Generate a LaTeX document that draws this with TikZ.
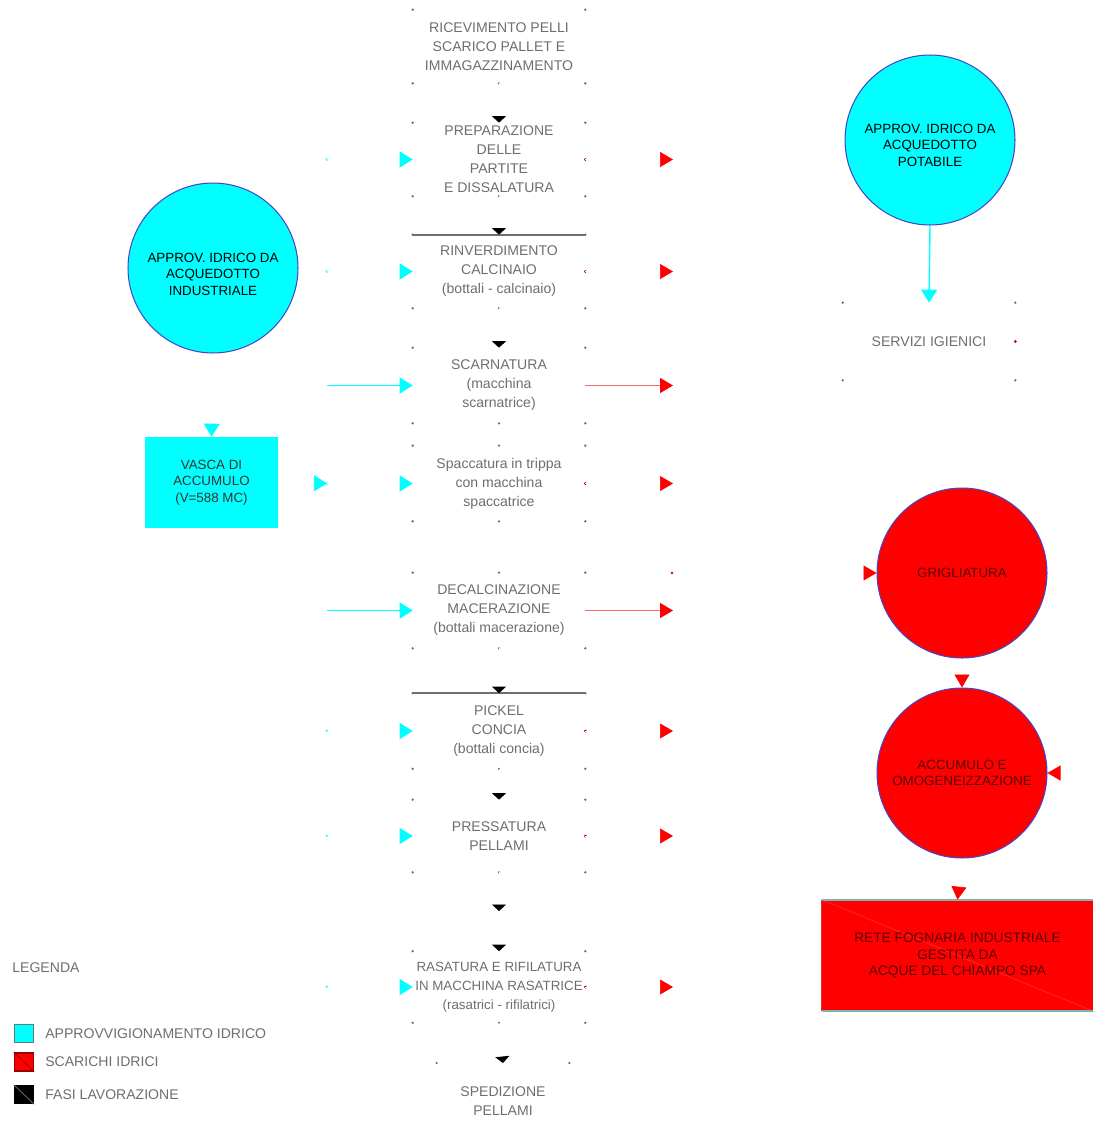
\documentclass[tikz,border=0pt]{standalone}
\usepackage{fontspec}
\setmainfont{Liberation Sans}
\usetikzlibrary{arrows.meta}
\definecolor{aqua}{HTML}{00FFFF}
\definecolor{scarlet}{HTML}{FF0000}
\definecolor{rim}{HTML}{4646C8}
\definecolor{txtgray}{HTML}{6E6E6E}
\definecolor{edgeteal}{HTML}{7FB2B0}
\definecolor{salmon}{HTML}{FF6A6A}
\definecolor{darkred}{HTML}{5A0000}
\begin{document}
\begin{tikzpicture}[x=0.02cm,y=-0.02cm,
  every node/.style={font=\fontsize{8}{10.8}\selectfont},
  phase/.style={minimum width=3.44cm,minimum height=1.46cm,inner sep=0pt,
    text=txtgray,align=center},
  source/.style={circle,minimum size=3.4cm,inner sep=0pt,align=center,
    draw=rim,line width=0.6pt,font=\fontsize{7.6}{9.4}\selectfont},
  caption/.style={align=center,inner sep=0pt,font=\fontsize{7.6}{9.4}\selectfont},
  flowk/.style={white,-{Triangle[black,length=0.13cm,width=0.28cm]}},
  flowc/.style={aqua,line width=0.8pt,-{Triangle[aqua,length=0.26cm,width=0.32cm]}},
  ghostc/.style={white,-{Triangle[aqua,length=0.26cm,width=0.32cm]}},
  flowr/.style={salmon,line width=0.8pt,-{Triangle[scarlet,length=0.26cm,width=0.3cm]}},
  ghostr/.style={white,-{Triangle[scarlet,length=0.26cm,width=0.3cm]}},
  dotg/.style={fill=txtgray},
]
\useasboundingbox (0,0) rectangle (1093,1133);

% ---------------- process column ----------------
\node[phase] (b1) at (499,46.5) {RICEVIMENTO PELLI\\SCARICO PALLET E\\IMMAGAZZINAMENTO};
\node[phase] (b2) at (499,159.5) {PREPARAZIONE\\DELLE\\PARTITE\\E DISSALATURA};
\node[phase] (b3) at (499,271.5) {RINVERDIMENTO\\CALCINAIO\\(bottali - calcinaio)};
\node[phase,minimum height=1.5cm] (b4) at (499,385.5) {SCARNATURA\\(macchina\\scarnatrice)};
\node[phase,minimum height=1.5cm] (b5) at (499,483.5) {Spaccatura in trippa\\con macchina\\spaccatrice};
\node[phase,minimum height=1.5cm] (b6) at (499,610.5) {DECALCINAZIONE\\MACERAZIONE\\(bottali macerazione)};
\node[phase,minimum height=1.5cm] (b7) at (499,731) {PICKEL\\CONCIA\\(bottali concia)};
\node[phase,minimum height=1.44cm] (b8) at (499,836) {PRESSATURA\\PELLAMI};
\node[phase,minimum height=1.42cm,font=\fontsize{7.6}{10.8}\selectfont] (b9) at (499,987) {RASATURA E RIFILATURA\\IN MACCHINA RASATRICE\\(rasatrici - rifilatrici)};
\node[phase,minimum width=2.64cm,minimum height=1.34cm,anchor=north] (b10) at (503,1063) {\\SPEDIZIONE\\PELLAMI};

% faint corner and centre marks of the phase frames
\foreach \n in {b1,b2,b3,b4,b5,b6,b7,b8,b9}{
  \fill[dotg] (\n.north west) circle (1.3);
  \fill[dotg] (\n.north east) circle (1.3);
  \fill[dotg] (\n.south west) circle (1.3);
  \fill[dotg] (\n.south east) circle (1.3);
  \fill[dotg] (\n.south) circle (1.3);
}
\fill[dotg] (b5.north) circle (1.3);
\fill[dotg] (b6.north) circle (1.3);
\fill[dotg] (b10.north west) circle (1.3);
\fill[dotg] (b10.north east) circle (1.3);
\draw[txtgray,line width=1pt] (b3.north west) -- (b3.north east);
\draw[txtgray,line width=1pt] (b7.north west) -- (b7.north east);

% sequence of phases
\coordinate (mid) at (499,911);
\draw[flowk] (b1.south) -- (b2.north);
\draw[flowk] (b2.south) -- (b3.north);
\draw[flowk] (b3.south) -- (b4.north);
\draw[flowk] (b6.south) -- (b7.north);
\draw[flowk] (b7.south) -- (b8.north);
\draw[flowk] (b8.south) -- (mid);
\draw[flowk] (mid) -- (b9.north);
\draw[flowk] (b9.south) -- (b10.north);

% ---------------- water supply (left) ----------------
\node[source,fill=aqua] (ind) at (213,268) {};
\node[caption] (indtxt) at (213,274) {APPROV. IDRICO DA\\ACQUEDOTTO\\INDUSTRIALE};
\node[fill=aqua,minimum width=2.66cm,minimum height=1.82cm,inner sep=0pt,
  align=center,text=black!80,font=\fontsize{7.6}{9.4}\selectfont] (vasca) at (211.5,482.5)
  {VASCA DI\\ACCUMULO\\(V=588 MC)};
\draw[ghostc] (ind.south) -- (vasca.north);

\foreach \n in {b2,b3,b4,b5,b6,b7,b8,b9}{
  \coordinate (in\n) at (327,0 |- \n.west);
}
\coordinate (inb5) at (327,483.5);
\coordinate (inb9) at (327,987);
\foreach \n in {b2,b3,b5,b7,b8,b9}{
  \fill[aqua] (in\n) circle (1.3);
  \draw[ghostc] (in\n) -- (\n.west);
}
\draw[flowc] (inb4) -- (b4.west);
\draw[flowc] (inb6) -- (b6.west);
\draw[ghostc] (vasca.east) -- (inb5);

% ---------------- discharges (right) ----------------
\foreach \n in {b2,b3,b4,b5,b6,b7,b8,b9}{
  \coordinate (out\n) at (673,0 |- \n.east);
}
\foreach \n in {b2,b3,b5,b7,b8,b9}{
  \fill[scarlet!70!black] (\n.east) circle (1.5);
  \draw[ghostr] (\n.east) -- (out\n);
}
\draw[flowr] (b4.east) -- (outb4);
\draw[flowr] (b6.east) -- (outb6);
\fill[scarlet!80!black] (672,573) circle (1.3);

% ---------------- potable water and services ----------------
\node[source,fill=aqua] (pot) at (930,140) {};
\node[caption] (pottxt) at (930,145) {APPROV. IDRICO DA\\ACQUEDOTTO\\POTABILE};
\node[phase,minimum height=1.54cm] (wc) at (929,341.5) {SERVIZI IGIENICI};
\foreach \a in {north west,north east,south west,south east}{
  \fill[dotg] (wc.\a) circle (1.3);
}
\fill[scarlet!70!black] (wc.east) circle (1.5);
\draw[flowc] (pot.south) -- (wc.north);

% ---------------- treatment line ----------------
\node[source,fill=scarlet,text=darkred] (grig) at (962,573) {GRIGLIATURA};
\node[source,fill=scarlet,text=darkred] (acc) at (962,773) {ACCUMULO E\\OMOGENEIZZAZIONE};
\node[fill=scarlet,minimum width=5.42cm,minimum height=2.22cm,inner sep=0pt] (rete) at (957.5,955.5) {};
\draw[scarlet!88!white,line width=0.6pt] (rete.north west) -- (rete.south east);
\node[caption,text=darkred,font=\fontsize{7.8}{9.4}\selectfont] (retetxt) at (rete.center)
  {RETE FOGNARIA INDUSTRIALE\\GESTITA DA\\ACQUE DEL CHIAMPO SPA};
\draw[edgeteal,line width=1.2pt] (rete.north west) -- (rete.north east);
\draw[edgeteal,line width=1.2pt] (rete.south west) -- (rete.south east);
\draw[scarlet!55!gray,line width=0.8pt] (rete.north west) -- (rete.south west);

\coordinate (gin) at (850,573);
\coordinate (ain) at (1075,773);
\draw[ghostr] (gin) -- (grig.west);
\draw[ghostr] (grig.south) -- (acc.north);
\draw[ghostr] (ain) -- (acc.east);
\draw[ghostr] (acc.south) -- (rete.north);

% ---------------- legend ----------------
\node[anchor=west,text=txtgray,inner sep=0pt] (leg) at (12,968) {LEGENDA};
\node[draw=edgeteal!70!black,fill=aqua,line width=0.8pt,minimum width=0.38cm,minimum height=0.36cm,inner sep=0pt] (k1) at (24,1033.5) {};
\node[draw=scarlet!60!black,fill=scarlet,line width=0.8pt,minimum width=0.38cm,minimum height=0.36cm,inner sep=0pt] (k2) at (24,1062) {};
\node[draw=black,fill=black,line width=0.8pt,minimum width=0.38cm,minimum height=0.36cm,inner sep=0pt] (k3) at (24,1094.5) {};
\draw[scarlet!60!black,line width=0.5pt] (k2.north west) -- (k2.south east);
\draw[black!60,line width=0.5pt] (k3.north west) -- (k3.south east);
\node[anchor=west,text=txtgray,inner sep=0pt] (t1) at (45,1034) {APPROVVIGIONAMENTO IDRICO};
\node[anchor=west,text=txtgray,inner sep=0pt] (t2) at (45,1062) {SCARICHI IDRICI};
\node[anchor=west,text=txtgray,inner sep=0pt] (t3) at (45,1095) {FASI LAVORAZIONE};
\end{tikzpicture}
\end{document}
